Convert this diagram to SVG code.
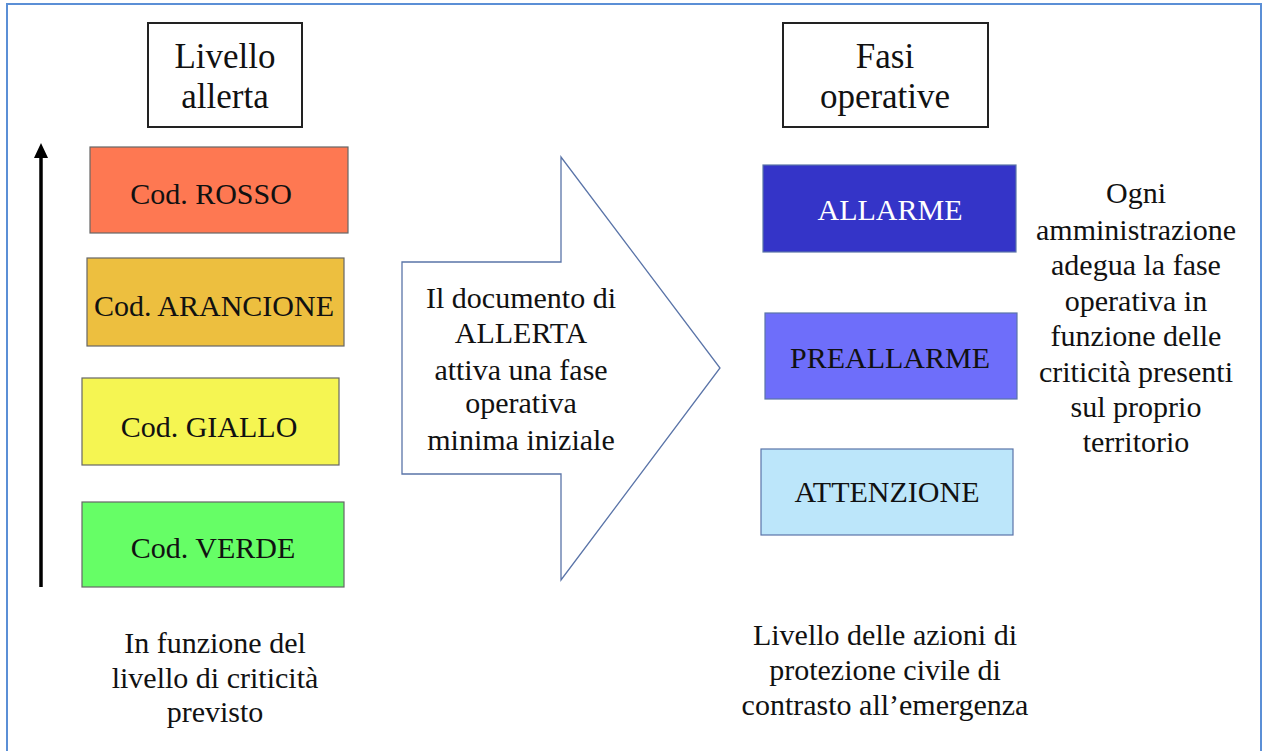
<svg xmlns="http://www.w3.org/2000/svg" width="1275" height="751" viewBox="0 0 1275 751">
<style>
text{font-family:"Liberation Serif","Times New Roman",serif;fill:#111;text-anchor:middle}
.h{font-size:35px}
.t{font-size:30px}
.hb{fill:#fff;stroke:#222;stroke-width:2}
.lb{stroke:#666;stroke-width:1.2}
.rb{stroke:#5a74a8;stroke-width:1.2}
</style>
<rect width="1275" height="751" fill="#fff"/>
<rect x="7" y="4" width="1254" height="760" fill="none" stroke="#5b8fd6" stroke-width="2"/>
<g id="hdr-livello"><rect class="hb" x="148" y="23" width="154" height="104"/><text class="h" x="225" y="68">Livello</text><text class="h" x="225" y="108">allerta</text></g>
<g id="hdr-fasi"><rect class="hb" x="783" y="23" width="205" height="104"/><text class="h" x="885" y="68">Fasi</text><text class="h" x="885" y="108">operative</text></g>
<g id="rosso"><rect class="lb" x="90" y="147" width="258" height="86" fill="#fe7852"/><text class="t" x="211" y="204">Cod. ROSSO</text></g>
<g id="arancione"><rect class="lb" x="87" y="258" width="257" height="88" fill="#edbf3f"/><text class="t" x="214" y="316">Cod. ARANCIONE</text></g>
<g id="giallo"><rect class="lb" x="82" y="378" width="257" height="87" fill="#f5f552"/><text class="t" x="209" y="437">Cod. GIALLO</text></g>
<g id="verde"><rect class="lb" x="82" y="502" width="262" height="85" fill="#66fe66"/><text class="t" x="213" y="558">Cod. VERDE</text></g>
<g id="allarme"><rect class="rb" x="763" y="165" width="253" height="87" fill="#3434c8"/><text class="t" x="890" y="220" style="fill:#fff">ALLARME</text></g>
<g id="preallarme"><rect class="rb" x="765" y="313" width="252" height="86" fill="#6e6efa"/><text class="t" x="890" y="368">PREALLARME</text></g>
<g id="attenzione"><rect class="rb" x="761" y="449" width="252" height="86" fill="#bce6fa"/><text class="t" x="887" y="502">ATTENZIONE</text></g>
<g id="big-arrow"><polygon points="402,262 561,262 561,157 720,368 561,580 561,474 402,474" fill="#fff" stroke="#5a74a8" stroke-width="1.3"/>
<text class="t" x="521" y="308">Il documento di</text><text class="t" x="521" y="343">ALLERTA</text><text class="t" x="521" y="380">attiva una fase</text><text class="t" x="521" y="413">operativa</text><text class="t" x="521" y="450">minima iniziale</text></g>
<g id="right-note"><text class="t" x="1136" y="203">Ogni</text><text class="t" x="1136" y="240">amministrazione</text><text class="t" x="1136" y="275">adegua la fase</text><text class="t" x="1136" y="311">operativa in</text><text class="t" x="1136" y="346">funzione delle</text><text class="t" x="1136" y="382">criticità presenti</text><text class="t" x="1136" y="417">sul proprio</text><text class="t" x="1136" y="452">territorio</text></g>
<g id="left-note"><text class="t" x="215" y="653">In funzione del</text><text class="t" x="215" y="688">livello di criticità</text><text class="t" x="215" y="722">previsto</text></g>
<g id="bottom-note"><text class="t" x="885" y="645">Livello delle azioni di</text><text class="t" x="885" y="680">protezione civile di</text><text class="t" x="885" y="715">contrasto all’emergenza</text></g>
<g id="connectors"><line x1="41" y1="587" x2="41" y2="155" stroke="#000" stroke-width="3.5"/><polygon points="41,143 34,158 48,158" fill="#000"/></g>
</svg>
